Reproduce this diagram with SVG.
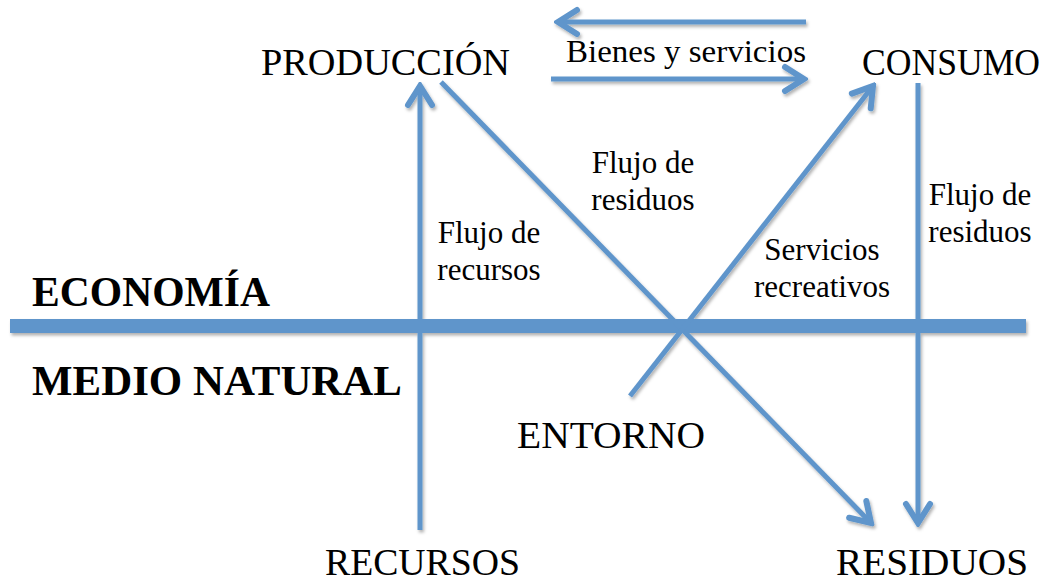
<svg xmlns="http://www.w3.org/2000/svg" width="1056" height="582" viewBox="0 0 1056 582">
<defs>
<style>
.ln{stroke:#5f95cb;stroke-width:5;fill:none;}
.bar{stroke:#5f95cb;stroke-width:14;fill:none;}
.t{font-family:"Liberation Serif","DejaVu Serif",serif;fill:#000;}
.big{font-size:38px;}
.lab{font-size:31px;}
.bold{font-size:42px;font-weight:bold;}
</style>
<marker id="ah" markerUnits="userSpaceOnUse" viewBox="-24 -16 28 32" refX="0" refY="0" markerWidth="28" markerHeight="32" orient="auto">
<path d="M-19,-12 L0,0 L-19,12" fill="none" stroke="#5f95cb" stroke-width="6" stroke-linecap="round" stroke-linejoin="miter"/>
</marker>
<filter id="sh" x="-5%" y="-5%" width="110%" height="110%">
<feDropShadow dx="1.5" dy="2.5" stdDeviation="1.5" flood-color="#000" flood-opacity="0.3"/>
</filter>
</defs>
<g id="connectors" filter="url(#sh)">
<line class="bar" x1="10" y1="326" x2="1026" y2="326"/>
<line class="ln" x1="806" y1="22" x2="558" y2="22" marker-end="url(#ah)"/>
<line class="ln" x1="551" y1="79" x2="804" y2="79" marker-end="url(#ah)"/>
<line class="ln" x1="420" y1="530" x2="420" y2="86" marker-end="url(#ah)"/>
<line class="ln" x1="441" y1="82" x2="871" y2="523" marker-end="url(#ah)"/>
<line class="ln" x1="630" y1="396" x2="873" y2="86" marker-end="url(#ah)"/>
<line class="ln" x1="918" y1="83" x2="918" y2="523" marker-end="url(#ah)"/>
</g>
<g id="produccion"><text class="t big" x="261" y="75" textLength="249" lengthAdjust="spacingAndGlyphs">PRODUCCIÓN</text></g>
<g id="consumo"><text class="t big" x="862" y="75" textLength="178" lengthAdjust="spacingAndGlyphs">CONSUMO</text></g>
<g id="bienes"><text class="t lab" x="566" y="62" textLength="240" lengthAdjust="spacingAndGlyphs">Bienes y servicios</text></g>
<g id="flujo-residuos-1"><text class="t lab" text-anchor="middle"><tspan x="643" y="173">Flujo de</tspan><tspan x="643" y="210">residuos</tspan></text></g>
<g id="flujo-recursos"><text class="t lab" text-anchor="middle"><tspan x="489" y="243">Flujo de</tspan><tspan x="489" y="280">recursos</tspan></text></g>
<g id="servicios-recreativos"><text class="t lab" text-anchor="middle"><tspan x="822" y="260">Servicios</tspan><tspan x="822" y="297">recreativos</tspan></text></g>
<g id="flujo-residuos-2"><text class="t lab" text-anchor="middle"><tspan x="980" y="205">Flujo de</tspan><tspan x="980" y="242">residuos</tspan></text></g>
<g id="economia"><text class="t bold" x="32" y="306" textLength="238" lengthAdjust="spacingAndGlyphs">ECONOMÍA</text></g>
<g id="medio-natural"><text class="t bold" x="32" y="395" textLength="370" lengthAdjust="spacingAndGlyphs">MEDIO NATURAL</text></g>
<g id="entorno"><text class="t big" x="517" y="448" textLength="188" lengthAdjust="spacingAndGlyphs">ENTORNO</text></g>
<g id="recursos"><text class="t big" x="325" y="575" textLength="195" lengthAdjust="spacingAndGlyphs">RECURSOS</text></g>
<g id="residuos"><text class="t big" x="836" y="575" textLength="192" lengthAdjust="spacingAndGlyphs">RESIDUOS</text></g>
</svg>
